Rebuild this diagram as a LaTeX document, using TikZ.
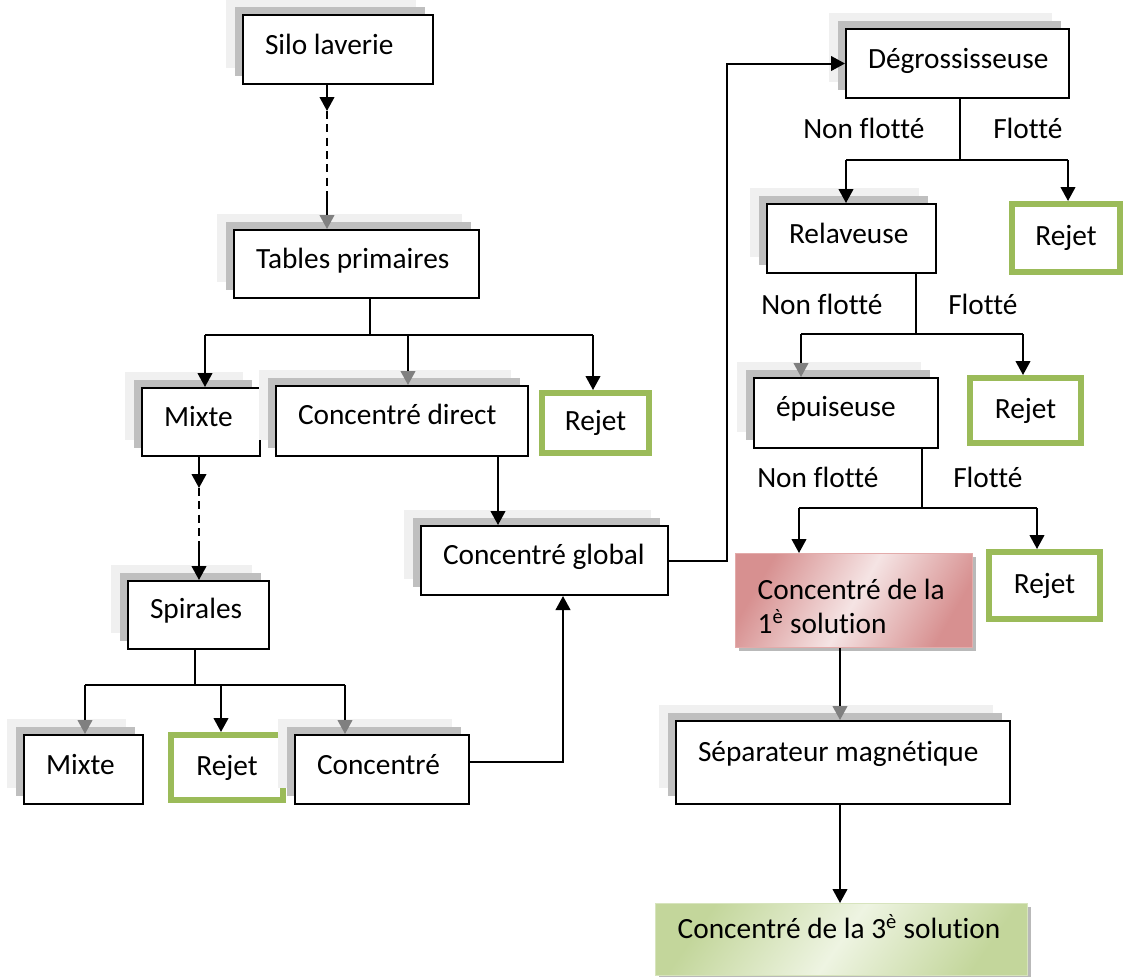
\documentclass[tikz,border=0pt]{standalone}
\usepackage{fontspec}
\setmainfont{Carlito}[Ligatures=NoCommon]
\usetikzlibrary{arrows.meta,shadows}
\definecolor{rejgreen}{HTML}{9BBB59}
\definecolor{pinkD}{HTML}{D79090}
\definecolor{pinkL}{HTML}{F5E4E4}
\definecolor{pinkB}{HTML}{E3ABAA}
\definecolor{greenD}{HTML}{C3D69B}
\definecolor{greenL}{HTML}{EEF4E2}
\definecolor{greenB}{HTML}{D7E4BD}
\newcommand\fs{\fontsize{22}{25.5}\selectfont}
\tikzset{
  box/.style={draw=black, line width=1.5pt, fill=white, anchor=north west,
    align=left, inner xsep=16.5pt, inner ysep=0pt, font=\fs,
    general shadow={draw=none, fill=gray!12, shadow xshift=-12.75pt, shadow yshift=12pt},
    general shadow={draw=none, fill=gray!50, shadow xshift=-6pt, shadow yshift=6pt}},
  pinkbox/.style={draw=pinkB, line width=1.1pt, anchor=north west,
    align=left, inner xsep=16.5pt, inner ysep=0pt, font=\fs,
    general shadow={draw=none, fill=gray!55, shadow xshift=2.5pt, shadow yshift=-2.5pt},
    top color=pinkD, bottom color=pinkD, middle color=pinkL, shading angle=60},
  greenbox/.style={draw=greenB, line width=1.1pt, anchor=north west,
    align=left, inner xsep=16.5pt, inner ysep=0pt, font=\fs,
    general shadow={draw=none, fill=gray!55, shadow xshift=2.5pt, shadow yshift=-2.5pt},
    top color=greenD, bottom color=greenD, middle color=greenL, shading angle=55},
  rejet/.style={draw=rejgreen, line width=4.5pt, fill=white, align=center,
    inner sep=0pt, font=\fs},
  lbl/.style={anchor=base west, inner sep=0pt, font=\fs},
  line/.style={line width=1.5pt},
  conn/.style={line width=1.5pt, -{Triangle[width=11pt,length=10.5pt]}},
  conng/.style={line width=1.5pt, -{Triangle[width=11pt,length=10.5pt,color=black!50]}},
  dsh/.style={line width=1.5pt, dash pattern=on 6pt off 4pt},
}
% style, name, x, y, w, h, baseline, text
\newcommand\bx[8]{%
  \pgfmathsetlengthmacro\bxtw{(#5-44)*0.75pt}%
  \pgfmathsetlengthmacro\bxth{#7*0.75pt}%
  \pgfmathsetlengthmacro\bxtd{(#6-#7)*0.75pt}%
  \node[#1, text width=\bxtw, text height=\bxth, text depth=\bxtd] (#2) at (#3,#4) {\spaceskip=0pt\xspaceskip=0pt\relax #8};}
% name, x1, y1, x2, y2
\newcommand\rj[5]{%
  \pgfmathsetlengthmacro\rjw{(#4-#2-6)*0.75pt}%
  \pgfmathsetlengthmacro\rjh{(#5-#3-6)*0.75pt}%
  \node[rejet, minimum width=\rjw, minimum height=\rjh] (#1) at ({(#2+#4)/2},{(#3+#5)/2}) {Rejet};}
\begin{document}
\begin{tikzpicture}[x=0.75pt, y=-0.75pt]
\useasboundingbox (0,0) rectangle (1124,976);
% boxes
\bx{box}{silo}{242}{14}{190}{69}{39}{Silo laverie}
\bx{box}{tables}{233}{229}{245}{68}{38}{Tables primaires}
\bx{box}{mixteA}{141}{387}{118}{68}{38}{Mixte}
\bx{box}{cdirect}{275}{385}{252}{70}{38}{Concentré direct}
\rj{rejA}{539}{390}{652}{456}
\bx{box}{spirales}{127}{580}{141}{68}{37}{Spirales}
\bx{box}{mixteB}{23}{734}{119}{69}{39}{Mixte}
\rj{rejB}{168}{732}{286}{803}
\bx{box}{concentre}{294}{734}{174}{69}{39}{Concentré}
\bx{box}{cglobal}{420}{525}{247}{69}{38}{Concentré global}
\bx{box}{degross}{845}{28}{223}{69}{39}{Dégrossisseuse}
\rj{rejC}{1009}{201}{1123}{275}
\bx{box}{relav}{766}{203}{169}{69}{39}{Relaveuse}
\rj{rejD}{967}{375}{1084}{446}
\bx{box}{epuis}{753}{377}{184}{70}{38}{épuiseuse}
\rj{rejE}{986}{549}{1103}{622}
\bx{pinkbox}{cone}{735}{553}{237}{94}{46}{Concentré de la\\1\textsuperscript{è} solution}
\bx{box}{sep}{675}{720}{334}{83}{40}{Séparateur magnétique}
\bx{greenbox}{cthree}{655}{903}{372}{72}{35}{Concentré de la 3\textsuperscript{è} solution}
% labels
\node[lbl] (nfA) at (803,138) {Non flotté};
\node[lbl] (fA) at (993,138) {Flotté};
\node[lbl] (nfB) at (761,314) {Non flotté};
\node[lbl] (fB) at (948,314) {Flotté};
\node[lbl] (nfC) at (757,487) {Non flotté};
\node[lbl] (fC) at (953,487) {Flotté};
% silo -> tables
\coordinate (sA) at (327,111);
\coordinate (sB) at (327,198);
\draw[conn] (silo.south -| sA) -- (sA);
\draw[dsh] (sA) -- (sB);
\draw[conng] (sB) -- (tables.north -| sB);
% tables branch
\coordinate (tb) at (370,335);
\coordinate (tL) at (205,335);
\coordinate (tM) at (408,335);
\coordinate (tR) at (593,335);
\draw[line] (tables.south -| tb) -- (tb);
\draw[line] (tL) -- (tR);
\draw[conn] (tL) -- (mixteA.north -| tL);
\draw[conng] (tM) -- (cdirect.north -| tM);
\draw[conn] (tR) -- (rejA.north -| tR);
% mixte -> spirales
\coordinate (mA) at (199,488);
\coordinate (mB) at (199,545);
\draw[conn] (mixteA.south -| mA) -- (mA);
\draw[dsh] (mA) -- (mB);
\draw[conn] (mB) -- (spirales.north -| mB);
% spirales branch
\coordinate (sp) at (195,685);
\coordinate (spL) at (85,685);
\coordinate (spM) at (221,685);
\coordinate (spR) at (345,685);
\draw[line] (spirales.south -| sp) -- (sp);
\draw[line] (spL) -- (spR);
\draw[conng] (spL) -- (mixteB.north -| spL);
\draw[conn] (spM) -- (rejB.north -| spM);
\draw[conng] (spR) -- (concentre.north -| spR);
% to concentre global
\coordinate (cd) at (498,0);
\coordinate (cc) at (563,762);
\draw[conn] (cdirect.south -| cd) -- (cglobal.north -| cd);
\draw[conn] (concentre.east |- cc) -| (cglobal.south -| cc);
% to degrossisseuse
\coordinate (jg) at (727,0);
\draw[conn] (cglobal.east) -| (jg |- degross.west) -- (degross.west);
% degross branch
\coordinate (dgb) at (960,160);
\coordinate (dgL) at (846,160);
\coordinate (dgR) at (1068,160);
\draw[line] (degross.south -| dgb) -- (dgb);
\draw[line] (dgL) -- (dgR);
\draw[conn] (dgL) -- (relav.north -| dgL);
\draw[conn] (dgR) -- (rejC.north -| dgR);
% relaveuse branch
\coordinate (rvb) at (916,334);
\coordinate (rvL) at (801,334);
\coordinate (rvR) at (1023,334);
\draw[line] (relav.south -| rvb) -- (rvb);
\draw[line] (rvL) -- (rvR);
\draw[conng] (rvL) -- (epuis.north -| rvL);
\draw[conn] (rvR) -- (rejD.north -| rvR);
% epuiseuse branch
\coordinate (epb) at (922,508);
\coordinate (epL) at (799,508);
\coordinate (epR) at (1037,508);
\draw[line] (epuis.south -| epb) -- (epb);
\draw[line] (epL) -- (epR);
\draw[conn] (epL) -- (cone.north -| epL);
\draw[conn] (epR) -- (rejE.north -| epR);
% to separateur and final
\coordinate (cs) at (840,0);
\draw[conng] (cone.south -| cs) -- (sep.north -| cs);
\draw[conn] (sep.south -| cs) -- (cthree.north -| cs);
\end{tikzpicture}
\end{document}
